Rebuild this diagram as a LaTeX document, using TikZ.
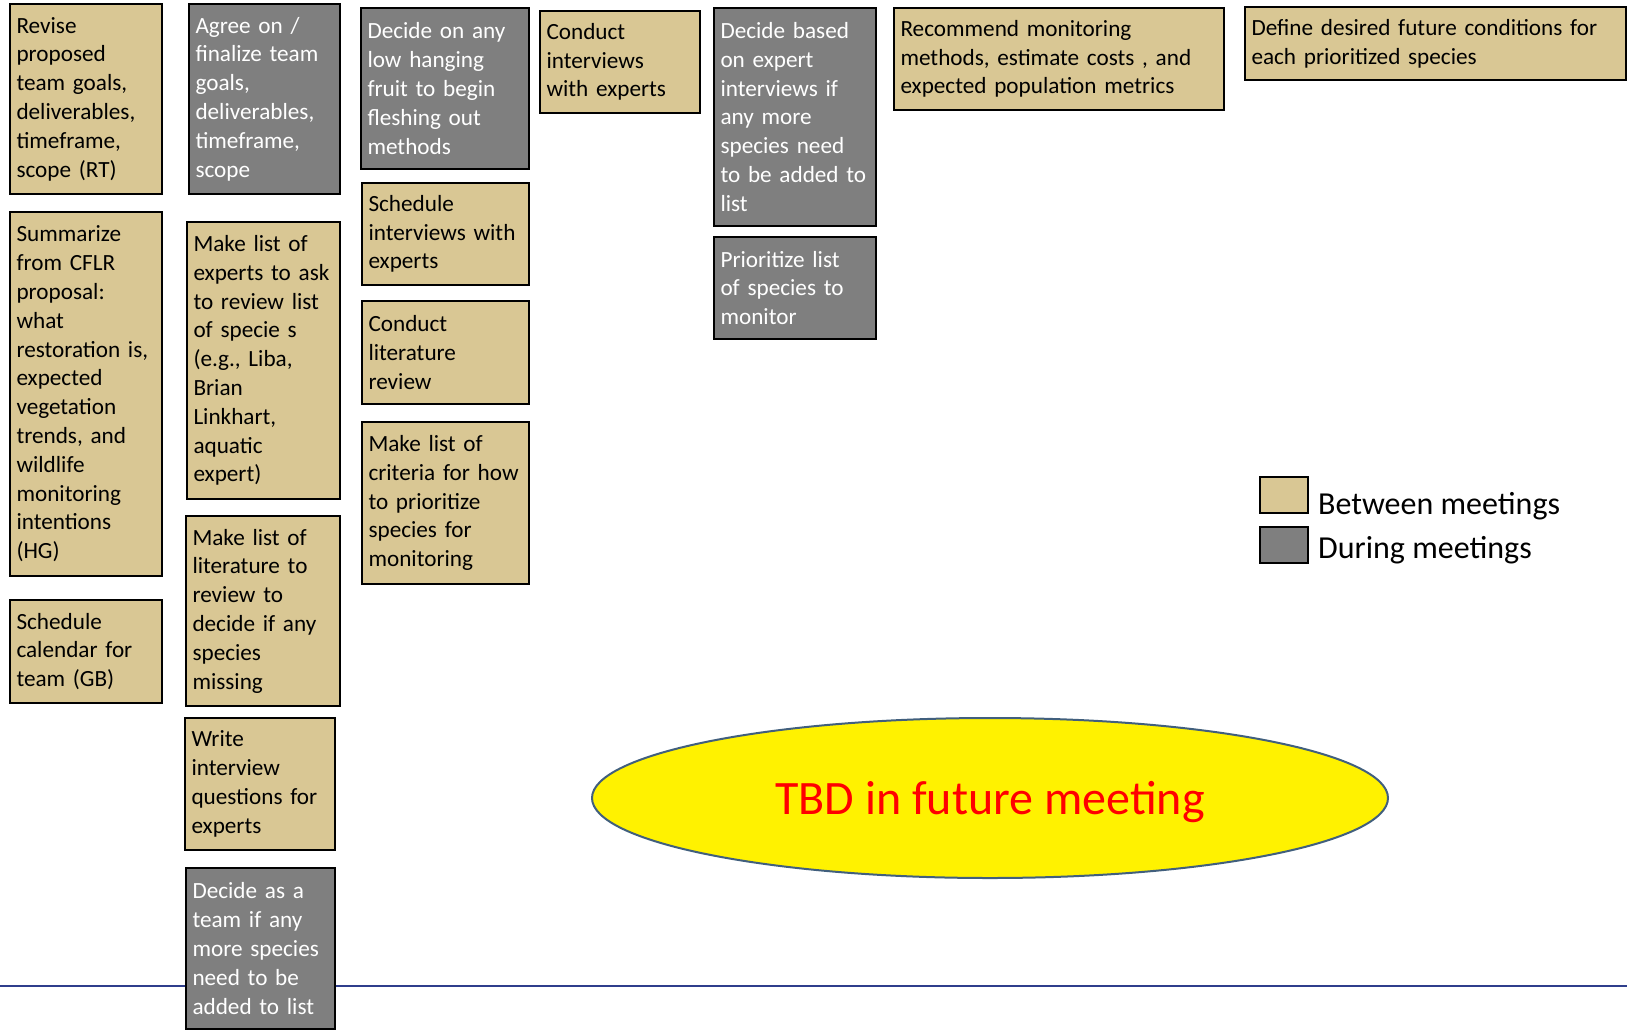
\documentclass[tikz,border=0pt]{standalone}
\usepackage{fontspec}
\setmainfont{Carlito}
\usetikzlibrary{shapes.geometric}
\definecolor{tanfill}{RGB}{217,199,148}
\definecolor{grayfill}{RGB}{127,127,127}
\definecolor{rulecol}{RGB}{47,62,140}
\definecolor{ovalline}{RGB}{65,95,125}
\begin{document}
\begin{tikzpicture}[x=1pt,y=-1pt,
    task/.style={draw=black,line width=1.5pt,anchor=north west,align=left,
      inner xsep=6.5pt,inner ysep=0pt,outer sep=0pt,
      font=\fontsize{23.2}{28.8}\selectfont},
    between/.style={task,fill=tanfill,text=black},
    during/.style={task,fill=grayfill,text=white},
    swatch/.style={draw=black,line width=1.5pt,anchor=north west,
      minimum width=48pt,minimum height=36pt,inner sep=0pt,outer sep=0pt},
    legendtext/.style={anchor=base west,inner sep=0pt,
      font=\fontsize{32}{38}\selectfont},
    tbd/.style={ellipse,draw=ovalline,line width=2pt,fill=yellow,text=red,
      inner sep=0pt,text depth=0pt,font=\fontsize{48}{58}\selectfont}]
  \useasboundingbox (0,0) rectangle (1627,1029);
  % rule near the bottom, under the boxes
  \coordinate (ruleL) at (0,986);
  \coordinate (ruleR) at (1627,986);
  \draw[rulecol,line width=2.5pt] (ruleL) -- (ruleR);
  % first column
  \node[between,minimum width=152pt,minimum height=190pt,text width=139pt]
    (revise) at (10,4) {Revise\\proposed\\team goals,\\deliverables,\\timeframe,\\scope (RT)};
  \node[between,minimum width=152pt,minimum height=364pt,text width=139pt]
    (summarize) at (10,212) {Summarize\\from CFLR\\proposal:\\what\\restoration is,\\expected\\vegetation\\trends, and\\wildlife\\monitoring\\intentions\\(HG)};
  \node[between,minimum width=152pt,minimum height=103pt,text width=139pt]
    (calendar) at (10,600) {Schedule\\calendar for\\team (GB)};
  % second column
  \node[during,minimum width=151pt,minimum height=190pt,text width=138pt]
    (agree) at (189,4) {Agree on /\\finalize team\\goals,\\deliverables,\\timeframe,\\scope};
  \node[between,minimum width=153pt,minimum height=277pt,text width=140pt]
    (expertlist) at (187,222) {Make list of\\experts to ask\\to review list\\of specie s\\(e.g., Liba,\\Brian\\Linkhart,\\aquatic\\expert)};
  \node[between,minimum width=154pt,minimum height=190pt,text width=141pt]
    (litlist) at (186,516) {Make list of\\literature to\\review to\\decide if any\\species\\missing};
  \node[between,minimum width=150pt,minimum height=132pt,text width=137pt]
    (questions) at (185,718) {Write\\interview\\questions for\\experts};
  \node[during,minimum width=149pt,minimum height=161pt,text width=136pt]
    (teamdecide) at (186,868) {Decide as a\\team if any\\more species\\need to be\\added to list};
  % third column
  \node[during,minimum width=168pt,minimum height=161pt,text width=155pt]
    (lowfruit) at (361,8) {Decide on any\\low hanging\\fruit to begin\\fleshing out\\methods};
  \node[between,minimum width=167pt,minimum height=102pt,text width=154pt]
    (schedint) at (362,183) {Schedule\\interviews with\\experts};
  \node[between,minimum width=167pt,minimum height=103pt,text width=154pt]
    (litreview) at (362,301) {Conduct\\literature\\review};
  \node[between,minimum width=167pt,minimum height=162pt,text width=154pt]
    (criteria) at (362,422) {Make list of\\criteria for how\\to prioritize\\species for\\monitoring};
  % fourth and fifth columns
  \node[between,minimum width=160pt,minimum height=102pt,text width=147pt]
    (interviews) at (540,11) {Conduct\\interviews\\with experts};
  \node[during,minimum width=162pt,minimum height=218pt,text width=149pt]
    (decidebased) at (714,8) {Decide based\\on expert\\interviews if\\any more\\species need\\to be added to\\list};
  \node[during,minimum width=162pt,minimum height=102pt,text width=149pt]
    (prioritize) at (714,237) {Prioritize list\\of species to\\monitor};
  % top row, right
  \node[between,minimum width=330pt,minimum height=102pt,text width=317pt]
    (recommend) at (894,8) {Recommend monitoring\\methods, estimate costs , and\\expected population metrics};
  \node[between,minimum width=381pt,minimum height=73pt,text width=368pt]
    (define) at (1245,7) {Define desired future conditions for\\each prioritized species};
  % legend
  \node[swatch,fill=tanfill] (keybetween) at (1260,477) {};
  \node[swatch,fill=grayfill] (keyduring) at (1260,527) {};
  \node[legendtext] (labbetween) at (1318,514) {Between meetings};
  \node[legendtext] (labduring) at (1318,558) {During meetings};
  % open item
  \node[tbd,minimum width=796pt,minimum height=160pt] (future) at (990,798) {TBD in future meeting};
\end{tikzpicture}
\end{document}
